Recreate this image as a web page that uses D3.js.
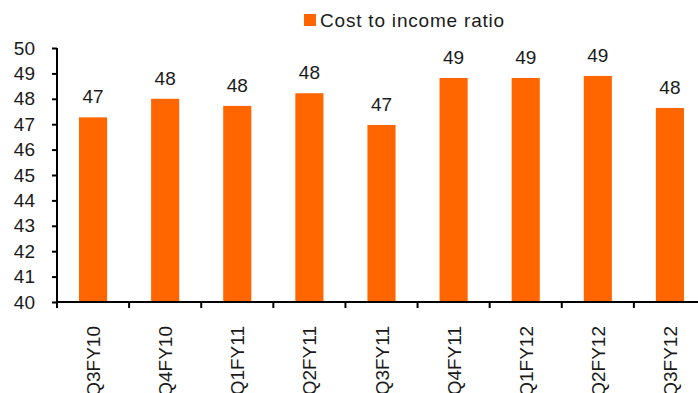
<!DOCTYPE html>
<html>
<head>
<meta charset="utf-8">
<script src="https://cdn.jsdelivr.net/npm/d3@7"></script>
<style>
  body { margin: 0; background: #fff; }
  text { font-family: "Liberation Sans", Arial, sans-serif; fill: #1a1a1a; }
</style>
</head>
<body>
<div class="js-chart"></div>
<script>
// Chart data
var quarters = ['Q3FY10', 'Q4FY10', 'Q1FY11', 'Q2FY11', 'Q3FY11', 'Q4FY11', 'Q1FY12', 'Q2FY12', 'Q3FY12'];
var costIncome = [47.27, 48.0, 47.72, 48.22, 46.97, 48.82, 48.82, 48.9, 47.64];
var yTicks = [40, 41, 42, 43, 44, 45, 46, 47, 48, 49, 50];
var seriesName = 'Cost to income ratio';

var width = 698;
var height = 393;
var margin = { top: 48, left: 57, bottom: 91 };
var plotRight = 706;
var barColor = '#ff6600';
var fontSize = '19px';

var svg = d3.select('.js-chart').append('svg')
  .attr('width', width)
  .attr('height', height);

var x = d3.scaleBand()
  .domain(quarters)
  .range([margin.left, plotRight])
  .paddingInner(0.61)
  .paddingOuter(0.305);

var y = d3.scaleLinear()
  .domain([40, 50])
  .range([height - margin.bottom, margin.top]);

// Bars
svg.selectAll('.bar')
  .data(costIncome)
  .enter().append('rect')
  .attr('class', 'bar')
  .attr('x', function(d, i) { return x(quarters[i]); })
  .attr('y', function(d) { return y(d); })
  .attr('width', x.bandwidth())
  .attr('height', function(d) { return y(40) - y(d); })
  .attr('fill', barColor);

// Value labels
svg.selectAll('.value-label')
  .data(costIncome)
  .enter().append('text')
  .attr('class', 'value-label')
  .attr('x', function(d, i) { return x(quarters[i]) + x.bandwidth() / 2; })
  .attr('y', function(d) { return y(d) - 14; })
  .attr('text-anchor', 'middle')
  .style('font-size', fontSize)
  .text(function(d) { return Math.round(d); });

// Y axis
var yAxis = svg.append('g')
  .attr('transform', 'translate(' + margin.left + ',0)')
  .call(d3.axisLeft(y).tickValues(yTicks).tickSize(5).tickPadding(17));
yAxis.selectAll('path, line').attr('stroke', '#000').attr('stroke-width', 2);
yAxis.select('.domain').attr('d', 'M0,' + y(50) + 'V' + y(40));
yAxis.selectAll('text').style('font-size', fontSize).attr('fill', '#1a1a1a');

// X axis: ticks sit between categories
var bandStep = x.step();
var xTickPositions = d3.range(quarters.length + 1).map(function(i) {
  return x(quarters[0]) - bandStep * x.paddingOuter() + i * bandStep;
});
var xAxis = svg.append('g').attr('class', 'x-axis');
xAxis.append('line')
  .attr('x1', margin.left).attr('x2', width)
  .attr('y1', y(40)).attr('y2', y(40))
  .attr('stroke', '#000').attr('stroke-width', 2);
xAxis.selectAll('.x-tick')
  .data(xTickPositions)
  .enter().append('line')
  .attr('x1', function(d) { return d; })
  .attr('x2', function(d) { return d; })
  .attr('y1', y(40))
  .attr('y2', y(40) + 6)
  .attr('stroke', '#000').attr('stroke-width', 2);

xAxis.selectAll('.x-label')
  .data(quarters)
  .enter().append('text')
  .attr('transform', function(d) {
    return 'translate(' + (x(d) + x.bandwidth() / 2 + 7) + ',' + (y(40) + 24) + ') rotate(-90)';
  })
  .attr('text-anchor', 'end')
  .style('font-size', fontSize)
  .text(function(d) { return d; });

// Legend
var legend = svg.append('g').attr('transform', 'translate(304,14)');
legend.append('rect')
  .attr('width', 12).attr('height', 12)
  .attr('fill', barColor);
legend.append('text')
  .attr('x', 16).attr('y', 13)
  .style('font-size', fontSize)
  .style('letter-spacing', '0.8px')
  .text(seriesName);
</script>
</body>
</html>
